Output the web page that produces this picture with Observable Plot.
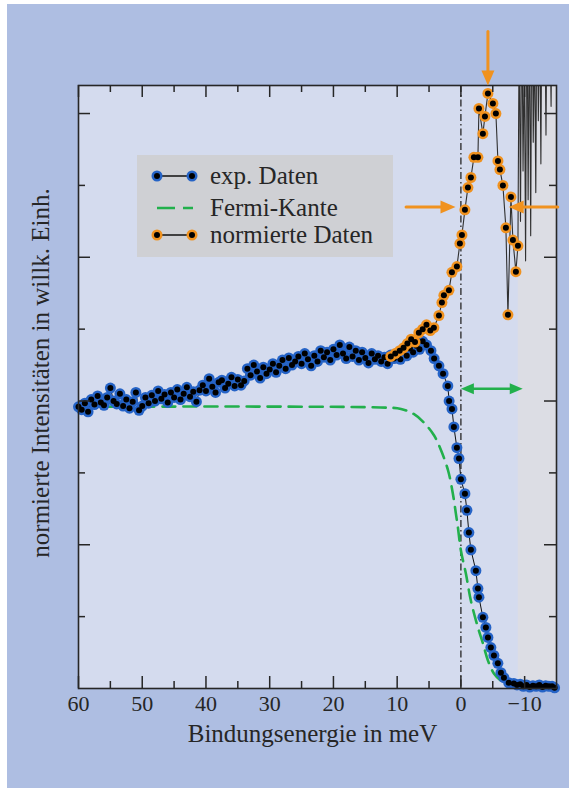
<!DOCTYPE html>
<html><head><meta charset="utf-8">
<script src="https://cdn.jsdelivr.net/npm/d3@7"></script>
<script src="https://cdn.jsdelivr.net/npm/@observablehq/plot@0.6"></script>
<style>
body{margin:0;background:#fff;}
#wrap{position:relative;width:569px;height:788px;overflow:hidden;background:#fff;}
#bg{position:absolute;left:7px;top:4px;right:0;bottom:0;background:#aebee2;}
#chart{position:absolute;left:0;top:0;}
#legend{position:absolute;left:137px;top:155px;width:256px;height:102px;background:#cfd0d4;}
</style></head><body>
<div id="wrap"><div id="bg"></div><div id="chart"></div><div id="legend"></div></div>
<script>
// ---- data ----
const expX = [60,59.5,59,58.5,58,57.5,57,56.5,56,55.5,
55,54.5,54,53.5,53,52.5,52,51.5,51,50.5,
50,49.5,49,48.5,48,47.5,47,46.5,46,45.5,
45,44.5,44,43.5,43,42.5,42,41.5,41,40.5,
40,39.5,39,38.5,38,37.5,37,36.5,36,35.5,
35,34.5,34,33.5,33,32.5,32,31.5,31,30.5,
30,29.5,29,28.5,28,27.5,27,26.5,26,25.5,
25,24.5,24,23.5,23,22.5,22,21.5,21,20.5,
20,19.5,19,18.5,18,17.5,17,16.5,16,15.5,
15,14.5,14,13.5,13,12.5,12,11.5,11,10.5,
10,9.5,9,8.5,8,7.5,7,6.5,
6.0,5.4,4.7,4.2,3.45,2.8,2.05,1.85,1.4,1.1,0.63,0.3,0,-0.63,-0.94,-1.25,-1.57,-2.35,-2.67,-2.83,-3.45,-3.92,-4.24,-4.7,-5.18,-5.8,-6.28,-6.75,-7.5,-8.3,
-8.8,-9.3,-9.8,-10.3,-10.8,-11.3,-11.8,-12.3,-12.8,-13.3,-13.8,-14.3,-14.7];
const expY = [3.92,3.88,3.97,3.85,4.02,3.95,4.07,3.98,3.94,4.05,
4.18,4.00,3.96,4.10,3.93,4.02,3.90,3.99,4.12,3.87,
3.93,4.05,3.97,4.08,4.00,4.14,4.03,4.09,3.98,4.12,
4.05,4.16,4.02,4.10,4.19,4.06,4.13,3.99,4.15,4.22,
4.14,4.31,4.20,4.12,4.26,4.29,4.18,4.24,4.33,4.21,
4.30,4.22,4.28,4.45,4.36,4.50,4.41,4.32,4.47,4.38,
4.44,4.52,4.40,4.49,4.57,4.45,4.60,4.50,4.55,4.62,
4.52,4.66,4.58,4.49,4.63,4.55,4.70,4.61,4.68,4.57,
4.72,4.64,4.78,4.66,4.59,4.75,4.62,4.70,4.57,4.68,
4.60,4.53,4.66,4.58,4.63,4.55,4.61,4.52,4.64,4.59,
4.66,4.58,4.70,4.63,4.73,4.68,4.77,4.72,
4.83,4.78,4.70,4.59,4.49,4.38,4.21,4.00,3.89,3.64,3.35,3.20,2.91,2.71,2.48,2.17,1.93,1.64,1.39,1.27,0.99,0.85,0.71,0.57,0.46,0.35,0.22,0.15,0.08,0.07,
0.05,0.06,0.03,0.05,0.02,0.04,0.03,0.05,0.02,0.04,0.03,0.03,0.01];

const fermiX = [60,12.6,9.4,7.4,5.8,4.2,3.1,2.0,1.26,0.78,0.47,0,-0.78,-1.57,-2.67,-3.45,-4.24,-5.18,-6.28,-7.85,-9.4,-15];
const fermiY = [3.92,3.91,3.89,3.82,3.70,3.52,3.31,3.03,2.71,2.43,2.24,1.92,1.60,1.22,0.85,0.63,0.39,0.21,0.11,0.03,0.01,0.0];

const normX = [11.0,10.3,9.6,9.0,8.4,7.8,7.2,6.6,6.0,5.4,4.8,4.24,3.45,2.98,2.67,1.88,1.41,0.63,0.16,-0.16,-0.63,-1.10,-1.57,-2.04,-2.67,-2.83,-3.45,-3.77,-4.24,-5.02,-5.49,-5.81,-6.12,-6.59,-7.06,-7.38,-7.85,-8.16,-8.63,-8.95];
const normY = [4.62,4.66,4.70,4.74,4.80,4.86,4.82,4.95,5.00,5.06,4.98,5.02,5.19,5.37,5.47,5.54,5.79,5.87,6.19,6.31,6.66,6.97,7.11,7.39,7.39,8.07,7.72,7.96,8.28,8.14,8.00,7.34,7.22,7.00,6.41,5.20,6.84,6.24,5.80,6.16];

const noiseX = [-9.15,-9.35,-9.55,-9.75,-9.95,-10.15,-10.35,-10.55,-10.75,-10.95,-11.15,-11.35,-11.55,-11.75,-11.95,-12.15,-12.35,-12.55,-12.75,-12.95,-13.15,-13.35,-13.55,-13.75,-13.95,-14.15,-14.35,-14.55,-14.75,-14.95];
const noiseY = [9.4,6.5,9.8,7.2,8.9,5.95,10.0,6.8,9.5,6.3,10.2,7.6,9.1,6.9,10.1,7.9,9.6,7.3,10.3,8.4,9.7,7.7,10.0,8.8,9.5,8.1,10.2,9.0,9.8,8.7];

const xMajor = [60,50,40,30,20,10,0,-10];
const xMinor = [55,45,35,25,15,5,-5];
const yMajor = [2,4,6,8];
const yMinor = [1,3,5,7];
const shade = [{x1: -9, x2: -15}];

const orangeArrows = [
  {x1: -4.24, y1: 9.14, x2: -4.24, y2: 8.39, rot: 180},
  {x1: 8.6, y1: 6.70, x2: 0.85, y2: 6.70, rot: 90},
  {x1: -15.2, y1: 6.70, x2: -7.5, y2: 6.70, rot: -90}
];
const gapArrow = [{x1: 0, x2: -9.7, y: 4.17}];

const xTitle = "Bindungsenergie in meV";
const yTitle = "normierte Intensitäten in willk. Einh.";
const legendItems = ["exp. Daten", "Fermi-Kante", "normierte Daten"];

// ---- styles ----
const BLUE = "#2563c6", ORANGE = "#f0921f", GREEN = "#22b04c", INK = "#262626";
const innerH = 788 - 85 - 100, innerW = 569 - 78 - 13;

const exp = expX.map((x, i) => ({x, y: expY[i]}));
const fermi = fermiX.map((x, i) => ({x, y: fermiY[i]}));
const norm = normX.map((x, i) => ({x, y: normY[i]}));
const normLine = norm.concat(noiseX.map((x, i) => ({x, y: noiseY[i]})));

const chart = Plot.plot({
  width: 569, height: 788,
  marginLeft: 78, marginRight: 13, marginTop: 85, marginBottom: 100,
  x: {domain: [60, -15], axis: null},
  y: {domain: [0, 8.39], axis: null},
  style: {background: "transparent", fontFamily: "'Liberation Serif', serif", color: INK, overflow: "visible"},
  marks: [
    Plot.frame({fill: "#d4dbee", stroke: "none"}),
    Plot.rect(shade, {x1: "x1", x2: "x2", fill: "#dcdde4"}),
    Plot.ruleX([0], {stroke: INK, strokeWidth: 1.3, strokeDasharray: "7,3,1.5,3"}),
    Plot.line(fermi, {x: "x", y: "y", stroke: GREEN, strokeWidth: 2.6, strokeDasharray: "13,8", curve: "catmull-rom"}),
    Plot.line(exp, {x: "x", y: "y", stroke: "#111", strokeWidth: 1}),
    Plot.dot(exp, {x: "x", y: "y", r: 5.5, fill: BLUE, stroke: "none"}),
    Plot.dot(exp, {x: "x", y: "y", r: 3, fill: "#000", stroke: "none"}),
    Plot.line(normLine, {x: "x", y: "y", stroke: "#303030", strokeWidth: 1.1, clip: true}),
    Plot.dot(norm, {x: "x", y: "y", r: 5.5, fill: ORANGE, stroke: "none"}),
    Plot.dot(norm, {x: "x", y: "y", r: 3, fill: "#000", stroke: "none"}),
    // inward ticks
    Plot.tickX(xMajor, {x: d => d, insetTop: innerH - 12, stroke: INK, strokeWidth: 1.5}),
    Plot.tickX(xMinor, {x: d => d, insetTop: innerH - 7, stroke: INK, strokeWidth: 1.5}),
    Plot.tickX(xMajor, {x: d => d, insetBottom: innerH - 12, stroke: INK, strokeWidth: 1.5}),
    Plot.tickX(xMinor, {x: d => d, insetBottom: innerH - 7, stroke: INK, strokeWidth: 1.5}),
    Plot.tickY(yMajor, {y: d => d, insetRight: innerW - 12, stroke: INK, strokeWidth: 1.5}),
    Plot.tickY(yMinor, {y: d => d, insetRight: innerW - 7, stroke: INK, strokeWidth: 1.5}),
    Plot.tickY(yMajor, {y: d => d, insetLeft: innerW - 12, stroke: INK, strokeWidth: 1.5}),
    Plot.tickY(yMinor, {y: d => d, insetLeft: innerW - 7, stroke: INK, strokeWidth: 1.5}),
    Plot.frame({stroke: INK, strokeWidth: 1.6}),
    // annotations
    Plot.arrow(orangeArrows, {x1: "x1", y1: "y1", x2: "x2", y2: "y2", headLength: 0, insetEnd: 10, stroke: ORANGE, strokeWidth: 3}),
    Plot.vector(orangeArrows, {x: "x2", y: "y2", rotate: "rot", length: 15, r: 6.5, shape: "spike", anchor: "end", fill: ORANGE, stroke: "none"}),
    Plot.arrow(gapArrow, {x1: "x1", y1: "y", x2: "x2", y2: "y", headLength: 0, insetStart: 8, insetEnd: 8, stroke: GREEN, strokeWidth: 2.6}),
    Plot.vector(gapArrow, {x: "x1", y: "y", rotate: -90, length: 13, r: 5.5, shape: "spike", anchor: "end", fill: GREEN, stroke: "none"}),
    Plot.vector(gapArrow, {x: "x2", y: "y", rotate: 90, length: 13, r: 5.5, shape: "spike", anchor: "end", fill: GREEN, stroke: "none"}),
    // axis labels
    Plot.axisX(xMajor, {anchor: "bottom", tickSize: 0, tickPadding: 7, fontSize: 22, fill: INK,
      tickFormat: d => d < 0 ? "\u2212" + Math.abs(d) : String(d)}),
    Plot.text([xTitle], {text: d => d, frameAnchor: "bottom", dx: -5, dy: 53, fontSize: 25, fill: INK}),
    Plot.text([yTitle], {text: d => d, frameAnchor: "left", textAnchor: "middle", rotate: -90, dx: -38, dy: -14, fontSize: 25, fill: INK})
  ]
});
document.getElementById("chart").appendChild(chart);

// ---- legend ----
const lg = d3.select("#legend").append("svg").attr("width", 256).attr("height", 102)
  .style("font-family", "'Liberation Serif', serif").style("font-size", "25px");
const rowsY = [21, 53, 80];
// exp. Daten
lg.append("line").attr("x1", 20).attr("x2", 55).attr("y1", rowsY[0]).attr("y2", rowsY[0]).attr("stroke", "#111").attr("stroke-width", 1.3);
[20, 55].forEach(cx => {
  lg.append("circle").attr("cx", cx).attr("cy", rowsY[0]).attr("r", 5.5).attr("fill", BLUE);
  lg.append("circle").attr("cx", cx).attr("cy", rowsY[0]).attr("r", 3).attr("fill", "#000");
});
// Fermi-Kante
lg.append("line").attr("x1", 20).attr("x2", 56).attr("y1", rowsY[1]).attr("y2", rowsY[1]).attr("stroke", GREEN).attr("stroke-width", 2.6).attr("stroke-dasharray", "18,8");
// normierte Daten
lg.append("line").attr("x1", 20).attr("x2", 55).attr("y1", rowsY[2]).attr("y2", rowsY[2]).attr("stroke", "#111").attr("stroke-width", 1.3);
[20, 55].forEach(cx => {
  lg.append("circle").attr("cx", cx).attr("cy", rowsY[2]).attr("r", 5.5).attr("fill", ORANGE);
  lg.append("circle").attr("cx", cx).attr("cy", rowsY[2]).attr("r", 3).attr("fill", "#000");
});
legendItems.forEach((t, i) => {
  lg.append("text").attr("x", 73).attr("y", rowsY[i] + 8).attr("fill", INK).text(t);
});
</script>
</body></html>
